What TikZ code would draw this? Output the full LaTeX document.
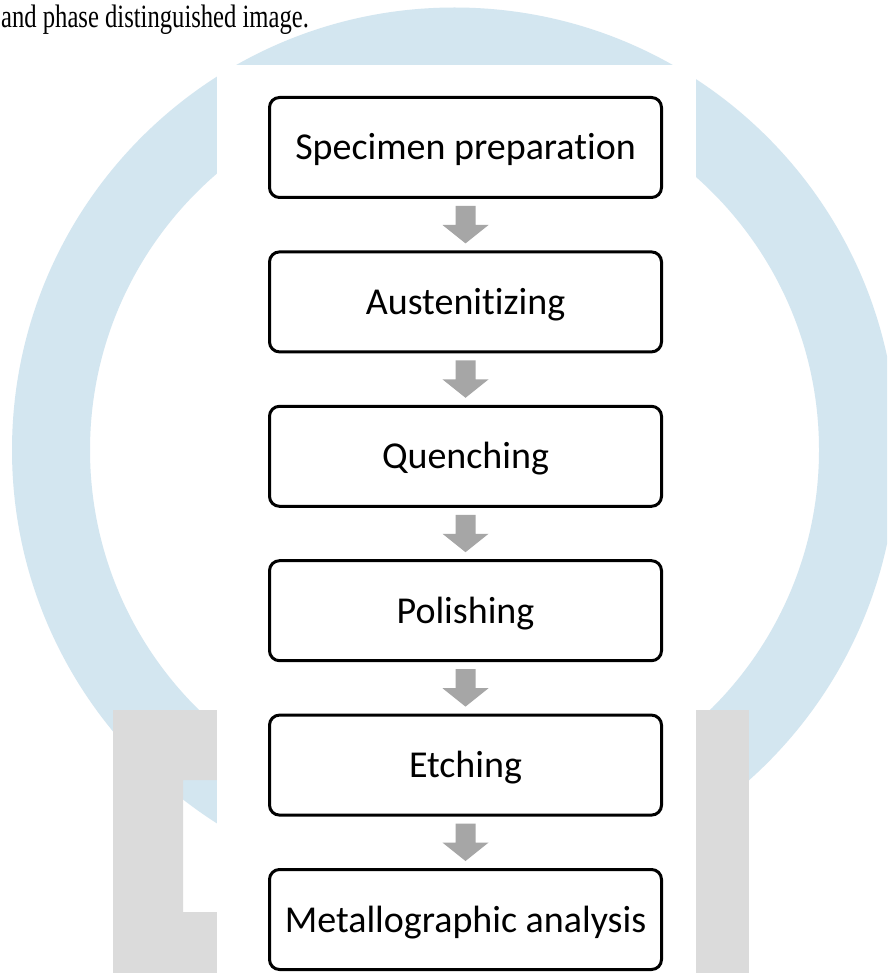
\documentclass[tikz,border=0pt]{standalone}
\usepackage{fontspec}
\setmainfont{Liberation Serif}
\newfontfamily\boxfont{Carlito}[Ligatures=NoCommon]
\usetikzlibrary{calc}
\definecolor{ringblue}{HTML}{D3E6F0}
\definecolor{logogray}{HTML}{DBDBDB}
\definecolor{arrowgray}{HTML}{A6A6A6}
\begin{document}
\begin{tikzpicture}[x=1pt,y=-1pt,
  stepbox/.style={draw=black, line width=3pt, rounded corners=10pt, fill=white,
    minimum width=392pt, minimum height=100pt, inner sep=0pt,
    text height=25pt, text depth=0pt, font=\boxfont\fontsize{38}{40}\selectfont},
  flowarrow/.style={fill=arrowgray}]
\useasboundingbox (0,0) rectangle (887,973);
\clip (0,0) rectangle (887,973);
\fill[white] (0,0) rectangle (887,973);

% background ring
\fill[ringblue, even odd rule] (454.5,450) circle[radius=442.5] (454.5,450) circle[radius=364.5];

% grey letter shape
\fill[logogray] (113,710) -- (217,710) -- (217,780) -- (183,780) -- (183,912)
  -- (217,912) -- (217,973) -- (113,973) -- cycle;
\fill[logogray] (696,710) rectangle (749,973);

% white panel behind the flowchart
\fill[white] (217,65) rectangle (696,973);

% caption line (tall, narrow setting)
\node[anchor=base west, inner sep=0pt, font=\fontsize{25}{30}\selectfont] (caption)
  at (1,28) {\scalebox{0.985}[1.3]{and phase distinguished image.}};

% process steps
\node[stepbox] (s1) at (465.5,147.5) {Specimen preparation};
\node[stepbox] (s2) at (465.5,301.9) {Austenitizing};
\node[stepbox] (s3) at (465.5,456.3) {Quenching};
\node[stepbox] (s4) at (465.5,610.7) {Polishing};
\node[stepbox] (s5) at (465.5,765.1) {Etching};
\node[stepbox] (s6) at (465.5,919.5) {Metallographic analysis};

% block arrows between steps
\foreach \a/\b in {s1/s2,s2/s3,s3/s4,s4/s5,s5/s6}{
  \fill[flowarrow] ($(\a.south)+(-10,7)$) -- ($(\a.south)+(10,7)$)
    -- ($(\a.south)+(10,26)$) -- ($(\a.south)+(23,26)$)
    -- ($(\b.north)+(0,-7)$)
    -- ($(\a.south)+(-23,26)$) -- ($(\a.south)+(-10,26)$) -- cycle;
}
\end{tikzpicture}
\end{document}
